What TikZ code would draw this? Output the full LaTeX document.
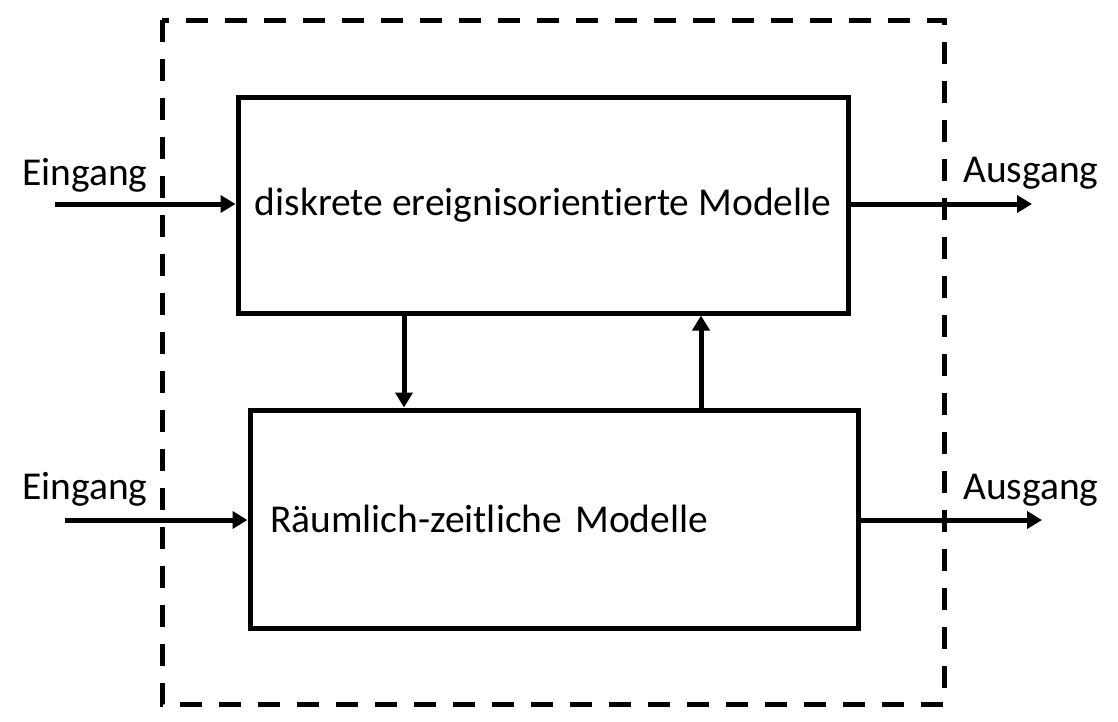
\documentclass[tikz,border=0pt]{standalone}
\usepackage{fontspec}
\setmainfont{Carlito}[Ligatures=NoCommon]
\usetikzlibrary{arrows.meta}
\begin{document}
\begin{tikzpicture}[x=1pt,y=-1pt,
  blk/.style={draw,line width=5pt,inner sep=0pt,font=\fontsize{39.5}{44}\selectfont},
  lbl/.style={inner sep=0pt,font=\fontsize{39.5}{44}\selectfont},
  conn/.style={line width=5pt,-{Triangle[length=15pt,width=17pt]}},
  frame/.style={line width=5pt,dash pattern=on 22pt off 17pt}]
\useasboundingbox (0,0) rectangle (1118,721);
\draw[frame] (162,20) rectangle (944,704);
\node[blk,minimum width=610pt,minimum height=216pt] (m1) at (543,205) {diskrete ereignisorientierte Modelle};
\node[blk,minimum width=608pt,minimum height=218pt,text width=568pt,align=left] (m2) at (554,519) {Räumlich-zeitliche Modelle};
\coordinate (in1) at (55,204);
\coordinate (in2) at (65,520);
\coordinate (out1) at (1032,204);
\coordinate (out2) at (1042,520);
\node[lbl,anchor=south west] (e1) at (22,192) {Eingang};
\node[lbl,anchor=south west] (e2) at (22,506) {Eingang};
\node[lbl,anchor=south west] (a1) at (963,189) {Ausgang};
\node[lbl,anchor=south west] (a2) at (963,506) {Ausgang};
\draw[conn] (in1) -- (in1 -| m1.west);
\draw[conn] (in2) -- (in2 -| m2.west);
\draw[conn] (out1 -| m1.east) -- (out1);
\draw[conn] (out2 -| m2.east) -- (out2);
\draw[conn] (m1.south -| 404,0) -- (m2.north -| 404,0);
\draw[conn] (m2.north -| 701,0) -- (m1.south -| 701,0);
\end{tikzpicture}
\end{document}
